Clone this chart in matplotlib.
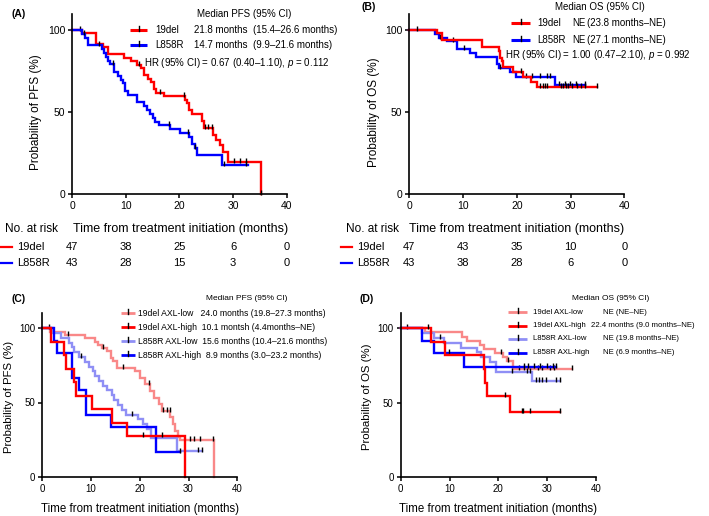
import numpy as np
import matplotlib
matplotlib.use("Agg")
import matplotlib.pyplot as plt
from matplotlib.path import Path

plt.rcParams['font.family'] = ['Liberation Sans', 'DejaVu Sans']
plt.rcParams['mathtext.fontset'] = 'custom'
plt.rcParams['mathtext.it'] = 'Liberation Sans:italic'
plt.rcParams['mathtext.rm'] = 'Liberation Sans'

# ---------------- data ----------------
x_ticks = [0, 10, 20, 30, 40]
y_ticks = [0, 50, 100]

# Panel A: PFS by mutation
A_19del_t = [0, 1.8, 4.5, 5.8, 6.6, 9.6, 10.9, 12.1, 12.8, 13.4, 14.1, 14.7, 15.3, 15.6, 17.1,
             21.0, 21.4, 21.8, 22.4, 24.2, 24.6, 26.3, 26.9, 27.5, 28.1, 29.0, 35.2]
A_19del_s = [100, 97.9, 91.5, 89.4, 85.1, 83.0, 80.9, 78.7, 76.6, 72.3, 70.2, 68.1, 63.8, 61.7, 59.6,
             57.4, 55.3, 51.1, 48.9, 44.7, 40.4, 36.2, 33.0, 29.8, 25.5, 19.8, 0]
A_19del_end = 35.2
A_19del_cens = [1.4, 12.5, 16.4, 20.8, 24.8, 25.4, 26.0, 30.2, 31.3, 32.5, 35.2]

A_L858R_t = [0, 1.8, 2.4, 2.9, 5.5, 5.9, 6.3, 6.7, 7.1, 7.8, 8.5, 9.0, 9.5, 9.9, 10.4, 12.0, 13.4,
             13.9, 14.5, 15.0, 15.5, 16.1, 18.2, 20.1, 21.8, 22.3, 22.8, 23.3, 27.9]
A_L858R_s = [100, 97.7, 95.3, 90.7, 88.3, 86.0, 83.7, 81.4, 79.1, 74.4, 72.1, 69.8, 67.4, 62.8, 60.5,
             55.8, 53.5, 51.2, 48.8, 46.5, 44.2, 41.9, 39.5, 37.2, 34.9, 30.2, 27.9, 24.0, 17.4]
A_L858R_end = 32.8
A_L858R_cens = [2.2, 5.0, 7.6, 18.0, 21.5, 22.9, 28.3, 32.5]

A_risk_19del = [47, 38, 25, 6, 0]
A_risk_L858R = [43, 28, 15, 3, 0]

# Panel B: OS by mutation
B_19del_t = [0, 5.1, 6.0, 13.5, 16.6, 16.9, 17.2, 17.5, 19.3, 21.2, 22.6, 23.7]
B_19del_s = [100, 97.9, 93.6, 89.4, 87.2, 83.0, 80.9, 77.3, 74.6, 71.5, 68.5, 65.0]
B_19del_end = 35.0
B_19del_cens = [1.4, 20.8, 24.3, 24.8, 25.2, 25.7, 28.2, 28.6, 29.2, 29.6, 30.3, 31.2, 32.0, 32.7, 34.9]

B_L858R_t = [0, 4.8, 5.6, 7.0, 8.8, 11.3, 12.5, 16.3, 16.7, 18.8, 19.8, 27.1]
B_L858R_s = [100, 97.7, 95.3, 93.0, 88.4, 86.0, 83.7, 79.1, 76.7, 74.4, 71.6, 66.4]
B_L858R_end = 32.7
B_L858R_cens = [5.7, 8.2, 10.1, 16.9, 21.8, 22.8, 24.3, 25.6, 26.2, 27.8, 28.9, 29.9, 31.1, 32.6]

B_risk_19del = [47, 43, 35, 10, 0]
B_risk_L858R = [43, 38, 28, 6, 0]

# Panel C: PFS by mutation and AXL
C_19low_t = [0, 1.6, 4.6, 8.8, 10.8, 11.5, 12.2, 13.2, 14.0, 14.6, 15.3, 19.1, 20.1, 21.0, 22.1,
             23.0, 24.0, 24.6, 26.2, 26.8, 27.3, 27.9, 28.3, 35.3]
C_19low_s = [100, 97.8, 95.6, 93.3, 91.1, 88.9, 86.7, 84.4, 80.0, 77.8, 73.3, 71.1, 66.7, 62.2, 57.8,
             53.3, 48.9, 44.4, 40.0, 35.6, 31.1, 26.7, 24.9, 0]
C_19low_end = 35.3
C_19low_cens = [1.3, 5.3, 12.5, 16.5, 21.9, 24.8, 25.5, 26.1, 30.2, 31.2, 32.3, 35.1]

C_19high_t = [0, 1.7, 4.4, 4.9, 6.4, 7.0, 10.1, 14.2, 17.4, 29.2]
C_19high_s = [100, 90.9, 81.8, 72.7, 63.6, 54.5, 45.5, 36.4, 27.3, 0]
C_19high_end = 29.2
C_19high_cens = [20.6, 24.5]

C_58low_t = [0, 2.2, 3.9, 5.4, 6.1, 6.6, 7.6, 8.7, 9.6, 10.4, 10.8, 11.6, 12.4, 13.2, 14.3, 14.8,
             15.6, 16.3, 17.2, 19.6, 20.6, 21.4, 22.2, 27.6]
C_58low_s = [100, 96.8, 93.5, 90.3, 87.1, 83.9, 80.6, 77.4, 74.2, 71.0, 67.7, 64.5, 61.3, 58.1, 54.8,
             51.6, 48.4, 45.2, 41.9, 38.7, 35.5, 32.3, 25.8, 17.2]
C_58low_end = 32.7
C_58low_cens = [7.9, 18.3, 32.0, 32.7]

C_58high_t = [0, 2.5, 3.1, 6.0, 7.6, 8.9, 14.0, 23.4]
C_58high_s = [100, 91.7, 83.3, 66.7, 58.3, 41.7, 33.3, 16.7]
C_58high_end = 28.3
C_58high_cens = [28.3]

# Panel D: OS by mutation and AXL
D_19low_t = [0, 4.9, 12.5, 13.5, 16.3, 17.0, 19.3, 20.9, 21.7, 23.1]
D_19low_s = [100, 97.2, 94.4, 91.7, 88.9, 86.1, 83.3, 80.6, 77.8, 72.8]
D_19low_end = 35.0
D_19low_cens = [1.3, 20.6, 21.9, 24.3, 25.3, 28.1, 29.0, 30.5, 31.5, 35.0]

D_19high_t = [0, 6.2, 9.1, 17.0, 17.3, 17.6, 22.4]
D_19high_s = [100, 90.9, 81.8, 72.7, 63.6, 54.5, 43.6]
D_19high_end = 32.7
D_19high_cens = [5.6, 21.4, 24.8, 25.1, 26.5, 32.7]

D_58low_t = [0, 4.3, 6.9, 8.9, 12.3, 15.6, 16.4, 18.2, 19.6, 26.9]
D_58low_s = [100, 96.8, 93.5, 90.3, 87.1, 83.9, 80.6, 77.4, 70.6, 64.7]
D_58low_end = 32.6
D_58low_cens = [8.1, 22.8, 25.9, 26.4, 27.8, 28.3, 29.0, 29.8, 31.9, 32.6]

D_58high_t = [0, 4.3, 6.8, 12.9]
D_58high_s = [100, 91.7, 83.3, 74.1]
D_58high_end = 31.9
D_58high_cens = [9.9, 25.2, 26.0, 27.4, 28.6, 30.0, 31.2, 31.9]

# ---------------- styling ----------------
RED = '#FF0000'
BLUE = '#0000FF'
PINK = '#F98888'
LBLUE = '#8F8FF5'

W, H = 709, 516
fig = plt.figure(figsize=(W / 100, H / 100), dpi=100)

tick_marker = Path([[0, -0.25], [0, 1]], [Path.MOVETO, Path.LINETO])


def make_ax(x0, x40, y0, y100, tick_fs):
    ppy = (y0 - y100) / 100.0
    top = y0 - 110 * ppy
    ax = fig.add_axes([x0 / W, 1 - y0 / H, (x40 - x0) / W, (y0 - top) / H])
    ax.set_xlim(0, 40)
    ax.set_ylim(0, 110)
    ax.set_xticks(x_ticks)
    ax.set_yticks(y_ticks)
    for sp in ['top', 'right']:
        ax.spines[sp].set_visible(False)
    for sp in ['left', 'bottom']:
        ax.spines[sp].set_linewidth(1.2)
    ax.tick_params(direction='out', length=3, width=1.1, labelsize=tick_fs, pad=2)
    ax.patch.set_alpha(0)
    return ax


def km(ax, t, s, end, cens, color, lw=1.7):
    tt = list(t) + [end]
    ss = list(s) + [s[-1]]
    ax.step(tt, ss, where='post', color=color, lw=lw, clip_on=False, solid_joinstyle='miter')
    t_arr = np.asarray(t)
    cs = [s[int(np.searchsorted(t_arr, c, side='right')) - 1] for c in cens]
    ax.plot(cens, cs, ls='none', marker=tick_marker, ms=6, mec='k', mew=1.0, clip_on=False)


axA = make_ax(72.3, 286.7, 194, 30, 7.5)
axB = make_ax(409.3, 624.3, 194, 30, 7.5)
axC = make_ax(42.3, 237.3, 476.7, 328.3, 7)
axD = make_ax(400.7, 596.0, 477.3, 328.3, 7)

km(axA, A_19del_t, A_19del_s, A_19del_end, A_19del_cens, RED)
km(axA, A_L858R_t, A_L858R_s, A_L858R_end, A_L858R_cens, BLUE)
km(axB, B_L858R_t, B_L858R_s, B_L858R_end, B_L858R_cens, BLUE)
km(axB, B_19del_t, B_19del_s, B_19del_end, B_19del_cens, RED)

km(axC, C_19low_t, C_19low_s, C_19low_end, C_19low_cens, PINK)
km(axC, C_58low_t, C_58low_s, C_58low_end, C_58low_cens, LBLUE)
km(axC, C_58high_t, C_58high_s, C_58high_end, C_58high_cens, BLUE)
km(axC, C_19high_t, C_19high_s, C_19high_end, C_19high_cens, RED)

km(axD, D_19low_t, D_19low_s, D_19low_end, D_19low_cens, PINK)
km(axD, D_58low_t, D_58low_s, D_58low_end, D_58low_cens, LBLUE)
km(axD, D_58high_t, D_58high_s, D_58high_end, D_58high_cens, BLUE)
km(axD, D_19high_t, D_19high_s, D_19high_end, D_19high_cens, RED)

# ---------------- overlay for text (pixel coordinates) ----------------
ov = fig.add_axes([0, 0, 1, 1])
ov.set_xlim(0, W)
ov.set_ylim(H, 0)
ov.axis('off')
ov.patch.set_alpha(0)


def T(x, y, s, fs, ha='left', va='center', **kw):
    ov.text(x, y, s, fontsize=fs, ha=ha, va=va, **kw)


def handle(x1, x2, y, color, lw=2.2):
    ov.plot([x1, x2], [y, y], color=color, lw=lw, solid_capstyle='butt')
    xc = (x1 + x2) / 2
    ov.plot([xc, xc], [y + 1, y - 4], color='k', lw=1.0)


# Panel A
T(12, 14, '(A)', 7.5, weight='bold')
T(244, 14, 'Median PFS (95% CI)', 7, ha='center')
handle(130, 147, 30, RED)
handle(130, 147, 45, BLUE)
T(155, 30, '19del', 7)
T(194, 30, '21.8 months', 7)
T(253, 30, '(15.4–26.6 months)', 7)
T(155, 45, 'L858R', 7)
T(194, 45, '14.7 months', 7)
T(253, 45, '(9.9–21.6 months)', 7)
T(144, 63, r'HR (95% CI) = 0.67 (0.40–1.10), $\mathit{p}$ = 0.112', 7)
T(36, 112, 'Probability of PFS (%)', 8.5, ha='center', rotation=90)
T(180.5, 229, 'Time from treatment initiation (months)', 9, ha='center')
T(5, 229, 'No. at risk', 8.5)
ov.plot([0, 12], [247, 247], color=RED, lw=1.6)
ov.plot([0, 12], [263, 263], color=BLUE, lw=1.6)
T(17, 247, '19del', 8)
T(17, 263, 'L858R', 8)
for xv, n1, n2 in zip(x_ticks, A_risk_19del, A_risk_L858R):
    px = 72.3 + xv * (286.7 - 72.3) / 40
    T(px, 247, str(n1), 8, ha='center')
    T(px, 263, str(n2), 8, ha='center')

# Panel B
T(362, 7, '(B)', 7.5, weight='bold')
T(599.5, 7, 'Median OS (95% CI)', 7, ha='center')
handle(511, 530, 23, RED)
handle(511, 530, 40, BLUE)
T(537, 23, '19del', 7)
T(572, 23, 'NE', 7)
T(587, 23, '(23.8 months–NE)', 7)
T(537, 40, 'L858R', 7)
T(572, 40, 'NE', 7)
T(587, 40, '(27.1 months–NE)', 7)
T(505, 55, r'HR (95% CI) = 1.00 (0.47–2.10), $\mathit{p}$ = 0.992', 7)
T(374, 112, 'Probability of OS (%)', 8.5, ha='center', rotation=90)
T(516.8, 229, 'Time from treatment initiation (months)', 9, ha='center')
T(346, 229, 'No. at risk', 8.5)
ov.plot([341, 352], [247, 247], color=RED, lw=1.6)
ov.plot([341, 352], [263, 263], color=BLUE, lw=1.6)
T(357, 247, '19del', 8)
T(357, 263, 'L858R', 8)
for xv, n1, n2 in zip(x_ticks, B_risk_19del, B_risk_L858R):
    px = 409.3 + xv * (624.3 - 409.3) / 40
    T(px, 247, str(n1), 8, ha='center')
    T(px, 263, str(n2), 8, ha='center')

# Panel C
T(11, 299, '(C)', 7.5, weight='bold')
T(247, 299, 'Median PFS (95% CI)', 6, ha='center')
C_labels = ['19del AXL-low   24.0 months (19.8–27.3 months)',
            '19del AXL-high  10.1 montsh (4.4months–NE)',
            'L858R AXL-low  15.6 months (10.4–21.6 months)',
            'L858R AXL-high  8.9 months (3.0–23.2 months)']
C_colors = [PINK, RED, LBLUE, BLUE]
for i, (lab, col) in enumerate(zip(C_labels, C_colors)):
    y = 313 + 14 * i
    handle(121, 135, y, col, lw=2.0)
    T(138, y, lab, 6.2)
T(9, 397, 'Probability of PFS (%)', 8.2, ha='center', rotation=90)
T(140, 509, 'Time from treatment initiation (months)', 8.3, ha='center')

# Panel D
T(360, 299, '(D)', 7.5, weight='bold')
T(611, 299, 'Median OS (95% CI)', 6, ha='center')
D_names = ['19del AXL-low', '19del AXL-high', 'L858R AXL-low', 'L858R AXL-high']
D_vals = ['NE (NE–NE)', '22.4 months (9.0 months–NE)', 'NE (19.8 months–NE)', 'NE (6.9 months–NE)']
D_valx = [603, 591, 603, 603]
D_colors = [PINK, RED, LBLUE, BLUE]
for i, (nm, v, vx, col) in enumerate(zip(D_names, D_vals, D_valx, D_colors)):
    y = 312 + 13.5 * i
    handle(508, 527, y, col, lw=2.0)
    T(533, y, nm, 5.6)
    T(vx, y, v, 5.6)
T(367, 397, 'Probability of OS (%)', 8.2, ha='center', rotation=90)
T(498.4, 509, 'Time from treatment initiation (months)', 8.3, ha='center')

fig.savefig('out.png', dpi=100)
